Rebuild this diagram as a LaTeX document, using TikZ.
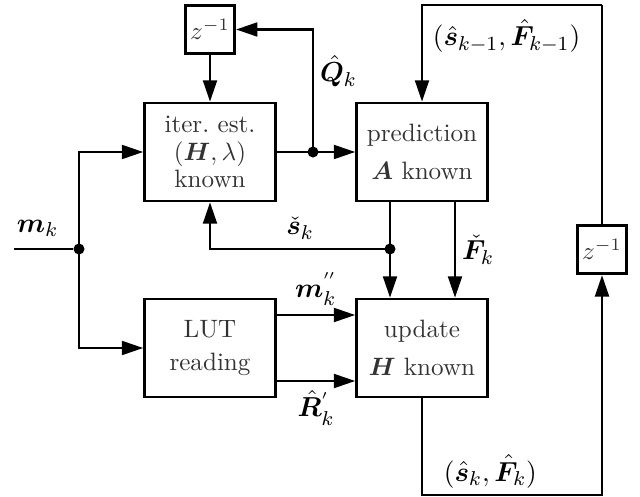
\documentclass[tikz,border=0pt]{standalone}
\usepackage{amsmath}
\usepackage{bm}
\usetikzlibrary{arrows.meta, calc}
\tikzset{
  box/.style={draw, line width=1.1pt, text=black!80, align=center, inner sep=2pt, minimum width=1.83cm, minimum height=1.37cm},
  zbox/.style={draw, line width=1.1pt, text=black!80, inner sep=1pt, minimum width=0.69cm, minimum height=0.68cm},
  arrow/.style={-{Triangle[length=8.5pt, width=5.5pt]}, line width=1pt},
  wire/.style={line width=1pt},
  dot/.style={circle, fill, inner sep=0pt, minimum size=4.4pt},
  lbl/.style={font=\fontsize{11}{13}\selectfont},
}
\begin{document}
\begin{tikzpicture}
  \useasboundingbox (0,0) rectangle (8.96,-6.958);
  % blocks
  \node[zbox] (zq) at (2.94,-0.413) {$z^{-1}$};
  \node[box] (iter) at (2.94,-2.128) {iter.~est.\\[-1pt]$(\bm H,\lambda)$\\[-1pt]known};
  \node[box] (pred) at (5.908,-2.128) {prediction\\[3pt]$\bm A$ known};
  \node[box] (lut) at (2.94,-4.872) {LUT\\[1pt]reading};
  \node[box] (upd) at (5.908,-4.872) {update\\[3pt]$\bm H$ known};
  \node[zbox] (zs) at (8.428,-3.493) {$z^{-1}$};
  % branch points
  \coordinate (min) at (0.196,-3.486);
  \node[dot] (mdot) at (1.106,-3.486) {};
  \node[dot] (qdot) at (4.382,-2.128) {};
  \node[dot] (sdot) at (5.46,-3.486) {};
  \coordinate (fx) at (6.37,-3.486);
  \coordinate (tr) at (8.428,-0.07);
  \coordinate (br) at (8.428,-6.93);
  % connectors
  \draw[arrow] (zq) -- (iter);
  \draw[wire] (min) -- (mdot) node[lbl, pos=0.4, above=1pt] {$\bm m_k$};
  \draw[arrow] (mdot.center) |- (iter.west);
  \draw[arrow] (mdot.center) |- (lut.west);
  \draw[arrow] (iter.east) -- (pred.west);
  \draw[arrow] (qdot.center) |- (zq.east) node[lbl, pos=0.33, right=-1pt] {$\hat{\bm Q}_k$};
  \draw[arrow] (tr) -| (pred.north) node[lbl, pos=0.265, below=2pt] {$(\hat{\bm s}_{k-1},\hat{\bm F}_{k-1})$};
  \draw[arrow] (pred.south -| sdot) -- (upd.north -| sdot);
  \draw[arrow] (sdot.center) -| (iter.south) node[lbl, pos=0.25, above] {$\check{\bm s}_k$};
  \draw[arrow] (pred.south -| fx) -- (upd.north -| fx) node[lbl, midway, right=-1pt] {$\check{\bm F}_k$};
  \draw[arrow] ([yshift=4.62mm]lut.east) -- ([yshift=4.62mm]upd.west) node[lbl, midway, above] {$\bm m^{''}_k$};
  \draw[arrow] ([yshift=-4.62mm]lut.east) -- ([yshift=-4.62mm]upd.west) node[lbl, midway, below] {$\hat{\bm R}^{'}_k$};
  \draw[arrow] (upd.south) |- (br) node[lbl, pos=0.69, above=-1pt] {$(\hat{\bm s}_k,\hat{\bm F}_k)$} -- (zs.south);
  \draw[wire] (zs.north) -- (tr);
\end{tikzpicture}
\end{document}
